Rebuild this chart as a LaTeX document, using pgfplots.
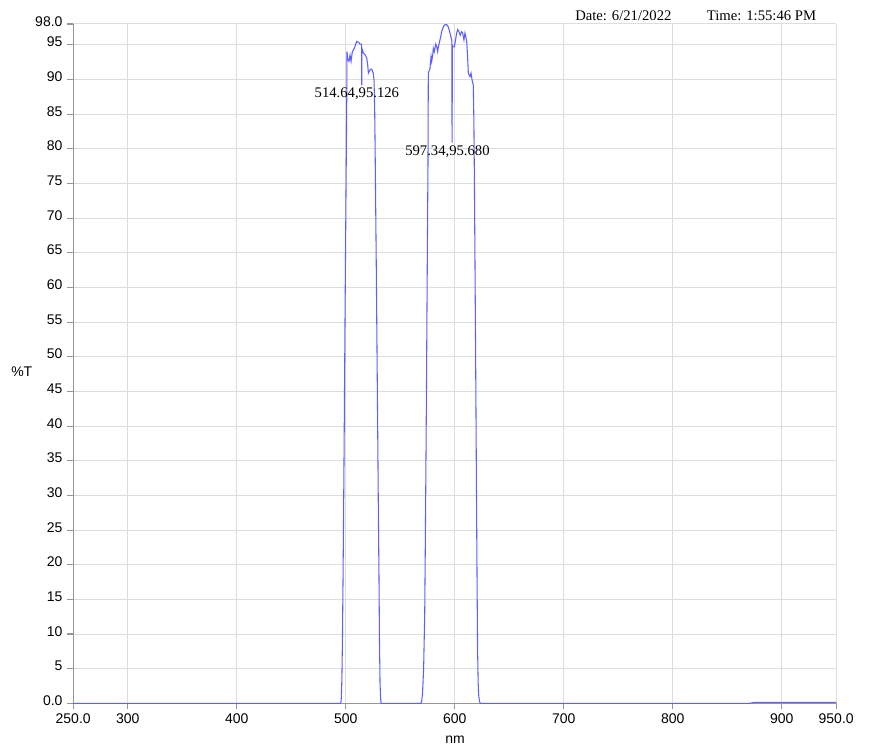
\documentclass[border=0pt]{standalone}
\usepackage{fontspec}
\setmainfont{Liberation Serif}
\setsansfont{Liberation Sans}
\usepackage{pgfplots}
\pgfplotsset{compat=1.18}
\definecolor{curve}{RGB}{95,95,255}
\definecolor{gridc}{RGB}{221,221,221}
\definecolor{axc}{RGB}{150,150,150}
\begin{document}
\begin{tikzpicture}
\path[use as bounding box] (-54.9pt,-38pt) rectangle (598.35pt,527.5pt);
\begin{axis}[
  at={(0,0)}, anchor=south west,
  width=572.25pt, height=509.5pt, scale only axis,
  xmin=250, xmax=950, ymin=0, ymax=98,
  separate axis lines,
  axis x line*=bottom, axis y line*=left,
  axis line style={axc, line width=0.8pt, -},
  tick style={axc, line width=0.8pt},
  tick align=outside, major tick length=4.5pt,
  grid=major, grid style={gridc, line width=0.75pt},
  xtick={250,300,400,500,600,700,800,900,950},
  xticklabels={250.0,300,400,500,600,700,800,900,950.0},
  ytick={0,5,10,15,20,25,30,35,40,45,50,55,60,65,70,75,80,85,90,95,98},
  yticklabels={0.0,5,10,15,20,25,30,35,40,45,50,55,60,65,70,75,80,85,90,95,98.0},
  ticklabel style={font=\sffamily\fontsize{10.5}{12}\selectfont},
  yticklabel style={yshift=2pt},
  clip=false,
]
\addplot[curve, line width=0.8pt] coordinates {
(250,0) (495.5,0) (496,0.8) (496.5,3.5) (497,9) (497.5,17) (498,26) (498.5,36) (499,47) (499.5,58) (500,68) (500.5,78) (501,88) (501.2,94.0)
(502,92.8) (503,92.6) (504,93.5) (504.9,92.6) (506.1,94.0) (507.9,94.5) (510.1,95.5) (512.2,95.3) (513.1,95.1) (514.6,95.1) (514.7,89.2) (514.9,94.5)
(516.2,93.8) (517.7,93.6) (519.3,93.1) (520.2,92.1) (520.8,90.9) (522.3,91.4) (523.8,91.5) (525.3,90.9) (526,89.9) (526.6,85.6)
(527,80) (527.5,72) (528,64) (528.5,55) (529,46) (529.5,37) (530,27) (530.5,19) (531,9) (531.5,3) (532,0.8) (532.5,0)
(569,0) (569.7,0.3) (570.5,1.5) (571.5,5) (572.5,13) (573,22) (573.5,32) (574,43) (574.5,55) (575,67) (575.5,78) (575.8,90.9)
(577.3,91.6) (578.3,93.3) (578.9,92.6) (579.8,93.5) (580.4,94.5) (581.3,94.0) (582.6,95.1) (583.5,94.7) (584.4,94.0) (585.0,94.7)
(586.5,95.7) (588.1,96.9) (589.6,97.6) (591.1,97.9) (592.7,97.9) (594.1,97.6) (595.7,96.7) (597.2,95.7) (597.34,95.68) (597.6,80.9) (597.9,95.0)
(598.2,94.7) (599.6,94.7) (600.3,95.2) (601.8,96.7) (602.8,97.2) (603.9,96.9) (605.1,96.4) (606.4,96.9) (607.3,96.7) (608.5,95.7)
(609.4,96.7) (610.4,96.0) (611.0,95.5) (611.9,93.1) (612.5,90.9) (614.0,90.4) (615.0,90.9) (616.2,89.7) (617.1,89.2)
(617.6,84) (618,77) (618.5,66) (619,55) (619.5,43) (620,30) (620.5,18) (621,8) (621.5,3) (622,1.2) (622.7,0.3) (623.5,0)
(870,0) (876,0.15) (950,0.15)
};
\node[anchor=base west, inner sep=0pt, font=\fontsize{11}{13}\selectfont] at (axis cs:471.3,87.45) {514.64,95.126};
\node[anchor=base west, inner sep=0pt, font=\fontsize{11}{13}\selectfont] at (axis cs:554.4,79.1) {597.34,95.680};
\node[anchor=base west, inner sep=0pt, font=\fontsize{11}{13}\selectfont] at (axis cs:710.4,98.5) {Date: 6/21/2022};
\node[anchor=base west, inner sep=0pt, font=\fontsize{11}{13}\selectfont] at (axis cs:831.2,98.5) {Time: 1:55:46 PM};
\node[font=\sffamily\fontsize{10.5}{12}\selectfont] at (axis cs:202.8,47.85) {\%T};
\node[font=\sffamily\fontsize{10.5}{12}\selectfont] at (axis cs:600.3,-5.3) {nm};
\end{axis}
\end{tikzpicture}
\end{document}
